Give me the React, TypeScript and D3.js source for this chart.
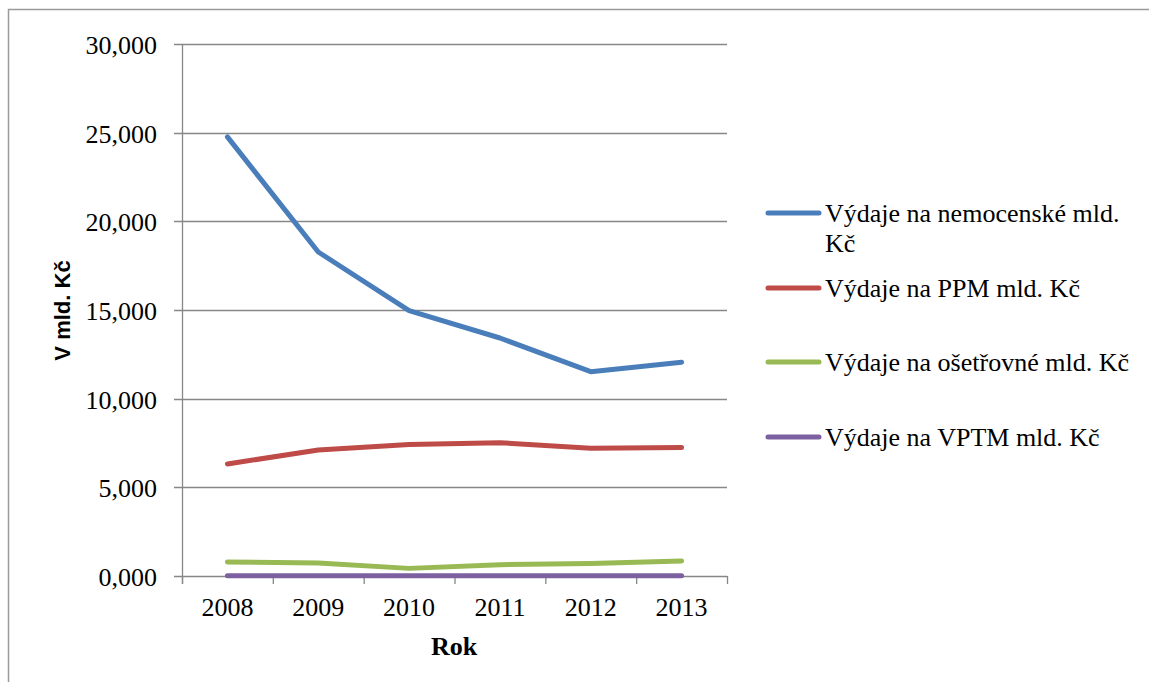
import React from "react";
import * as d3 from "d3";

const years = ["2008", "2009", "2010", "2011", "2012", "2013"];
const nemocenske = [24.76, 18.27, 14.96, 13.42, 11.52, 12.05];
const ppm = [6.32, 7.1, 7.42, 7.52, 7.2, 7.24];
const osetrovne = [0.79, 0.73, 0.43, 0.64, 0.71, 0.85];
const vptm = [0.01, 0.01, 0.01, 0.01, 0.01, 0.01];
const yTicks = [0, 5, 10, 15, 20, 25, 30];
const seriesNames = [
  ["Výdaje na nemocenské mld.", "Kč"],
  ["Výdaje na PPM mld. Kč"],
  ["Výdaje na ošetřovné mld. Kč"],
  ["Výdaje na VPTM mld. Kč"],
];
const colors = ["#4a7ebb", "#be4b48", "#98b954", "#7d60a0"];
const seriesValues = [nemocenske, ppm, osetrovne, vptm];

const fmt = (v: number) => d3.format(",.3f")(v).replace(".", ",");

export default function App() {
  const W = 1149, H = 682;
  const left = 182, right = 727, top = 44, bottom = 576;
  const x = d3.scaleBand<string>().domain(years).range([left, right]);
  const y = d3.scaleLinear().domain([0, 30]).range([bottom, top]);
  const line = d3
    .line<number>()
    .x((_, i) => (x(years[i]) as number) + x.bandwidth() / 2)
    .y((d) => y(d));
  const serif = "'Liberation Serif', 'Times New Roman', serif";
  const gridColor = "#878787";
  const legendY = [213, 288, 362, 437];
  const boundaries = years.map((yr) => x(yr) as number).concat([right]);

  return (
    <svg width={W} height={H} style={{ position: "absolute", left: 0, top: 0, background: "#fff" }}>
      <rect x={8.5} y={9.5} width={1160} height={700} fill="#fff" stroke="#9a9a9a" strokeWidth={1.5} />
      {yTicks.map((t) => (
        <g key={t}>
          <line x1={174} x2={right} y1={Math.round(y(t)) + 0.5} y2={Math.round(y(t)) + 0.5} stroke={gridColor} strokeWidth={1.3} />
          <text x={157} y={y(t) + 10} textAnchor="end" fontFamily={serif} fontSize={26} fill="#000">
            {fmt(t)}
          </text>
        </g>
      ))}
      <line x1={left + 0.5} x2={left + 0.5} y1={top} y2={bottom + 8} stroke={gridColor} strokeWidth={1.3} />
      {boundaries.map((b, i) => (
        <line key={i} x1={b + 0.5} x2={b + 0.5} y1={bottom} y2={bottom + 8} stroke={gridColor} strokeWidth={1.3} />
      ))}
      {years.map((yr) => (
        <text key={yr} x={(x(yr) as number) + x.bandwidth() / 2} y={616} textAnchor="middle" fontFamily={serif} fontSize={26} fill="#000">
          {yr}
        </text>
      ))}
      {seriesValues.map((vals, i) => (
        <path key={i} d={line(vals) || ""} fill="none" stroke={colors[i]} strokeWidth={5} strokeLinecap="round" strokeLinejoin="round" />
      ))}
      <text x={454} y={655} textAnchor="middle" fontFamily={serif} fontSize={26} fontWeight="bold" fill="#000">
        Rok
      </text>
      <text
        transform="translate(70,310.5) rotate(-90)"
        textAnchor="middle"
        fontFamily="'Liberation Sans', Arial, sans-serif"
        fontSize={22}
        fontWeight="bold"
        fill="#000"
      >
        V mld. Kč
      </text>
      {seriesNames.map((lines, i) => (
        <g key={i}>
          <line x1={768} x2={819} y1={legendY[i]} y2={legendY[i]} stroke={colors[i]} strokeWidth={5} strokeLinecap="round" />
          {lines.map((t, j) => (
            <text key={j} x={825} y={legendY[i] + 9 + j * 30} fontFamily={serif} fontSize={26} fill="#000">
              {t}
            </text>
          ))}
        </g>
      ))}
    </svg>
  );
}
